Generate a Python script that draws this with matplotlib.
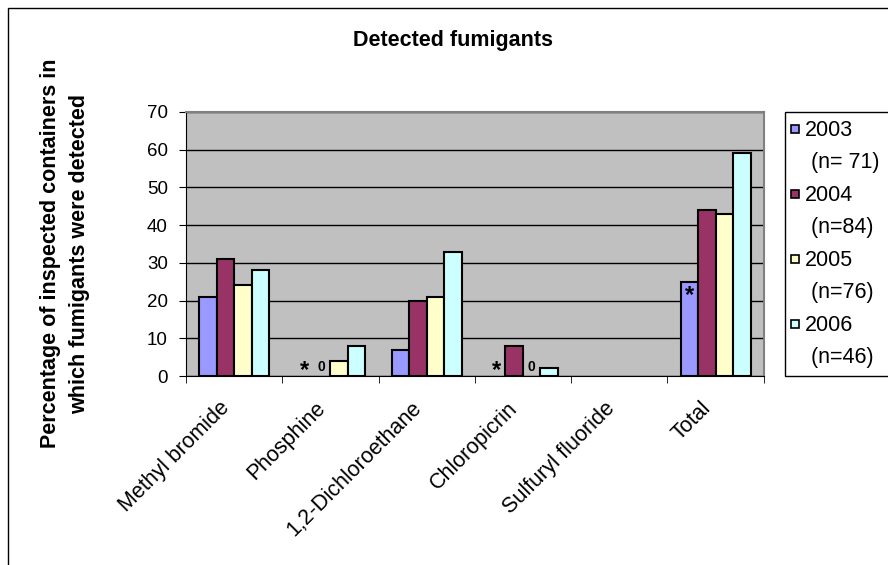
import numpy as np
import matplotlib
matplotlib.use("Agg")
import matplotlib.pyplot as plt
from matplotlib.patches import Rectangle
from matplotlib.lines import Line2D
from matplotlib.transforms import ScaledTranslation

plt.rcParams['font.family'] = ['Liberation Sans', 'DejaVu Sans']

categorias = ["Methyl bromide", "Phosphine", "1,2-Dichloroethane", "Chloropicrin",
              "Sulfuryl fluoride", "Total"]
anios = ["2003", "2004", "2005", "2006"]
muestras = ["(n= 71)", "(n=84)", "(n=76)", "(n=46)"]
colores = ["#9999FF", "#993366", "#FFFFCC", "#CCFFFF"]
# NaN = sin barra
v2003 = [21, np.nan, 7, np.nan, np.nan, 25]
v2004 = [31, np.nan, 20, 8, np.nan, 44]
v2005 = [24, 4, 21, np.nan, np.nan, 43]
v2006 = [28, 8, 33, 2, np.nan, 59]
series = [v2003, v2004, v2005, v2006]
# marcas sobre las barras: (categoria, serie, texto, altura)
marcas = [(1, 0, "*", 0), (1, 1, "0", 0), (3, 0, "*", 0), (3, 2, "0", 0), (5, 0, "*", 20)]

fig = plt.figure(figsize=(8.88, 5.65), dpi=100)
ax = fig.add_axes([0.2095, 0.3345, 0.6505, 0.4673])
ax.set_facecolor("#C0C0C0")

x = np.arange(len(categorias))
ancho = 1 / 5.5
for i, vals in enumerate(series):
    pos = x + (i - 1.5) * ancho
    ax.bar(pos, vals, width=ancho, color=colores[i], edgecolor="black",
           linewidth=1.5, zorder=3)

for cat, ser, txt, h in marcas:
    px = x[cat] + (ser - 1.5) * ancho
    if txt == "*":
        ax.text(px, h - 1.6, txt, ha="center", va="bottom", fontsize=17,
                fontweight="bold", zorder=4)
    else:
        ax.text(px, h + 0.6, txt, ha="center", va="bottom", fontsize=10,
                fontweight="bold", zorder=4)

ax.set_xlim(-0.5, len(categorias) - 0.5)
ax.set_ylim(0, 70)
ax.set_yticks(np.arange(0, 71, 10))
ax.yaxis.grid(True, color="black", linewidth=1, zorder=1)
ax.set_axisbelow(True)
ax.tick_params(axis="y", labelsize=13.5, length=5, pad=8, direction="out")
ax.set_xticks(x)
ax.set_xticklabels(categorias, rotation=45, ha="right", va="center",
                   rotation_mode="anchor", fontsize=15.5)
ax.tick_params(axis="x", length=0, pad=21)
desplazar = ScaledTranslation(-8 / 100, 0, fig.dpi_scale_trans)
for lab in ax.get_xticklabels():
    lab.set_transform(lab.get_transform() + desplazar)
ax.set_xticks(np.arange(-0.5, len(categorias), 1), minor=True)
ax.tick_params(axis="x", which="minor", length=5, direction="out")
for lado in ["top", "right"]:
    ax.spines[lado].set_color("#808080")
    ax.spines[lado].set_linewidth(1.5)

fig.text(65 / 888, 1 - 253.5 / 565,
         "Percentage of inspected containers in\nwhich fumigants were detected",
         rotation=90, ha="center", va="center", fontsize=15.5,
         fontweight="bold", linespacing=1.45)
fig.text(0.51, 0.929, "Detected fumigants", ha="center", va="center",
         fontsize=15.5, fontweight="bold")

# leyenda: caja propia y texto en dos lineas (la segunda sin cuadro)
fig.add_artist(Rectangle((785 / 888, 0.3345), 0.2, 0.4673,
                         transform=fig.transFigure, facecolor="white",
                         edgecolor="black", linewidth=1))
vacio = Line2D([], [], linestyle="None")
handles, labels = [], []
for c, a, n in zip(colores, anios, muestras):
    cuadro = Line2D([], [], linestyle="None", marker="s", markersize=5.5,
                    markerfacecolor=c, markeredgecolor="black", markeredgewidth=1.2)
    handles += [cuadro, vacio]
    labels += [a, " " + n]
leg = fig.legend(handles, labels, loc="center left",
                 bbox_to_anchor=(790 / 888, 0.3345 + 0.4673 / 2), fontsize=15.5,
                 frameon=False, handlelength=0.5, handleheight=0.5,
                 handletextpad=0.2, labelspacing=0.53, borderpad=0, borderaxespad=0)

fig.add_artist(Rectangle((8 / 888, -0.05), 1.2, (565 - 8) / 565 + 0.05,
                         transform=fig.transFigure, fill=False,
                         edgecolor="black", linewidth=1))

plt.savefig("out.png", dpi=100)
